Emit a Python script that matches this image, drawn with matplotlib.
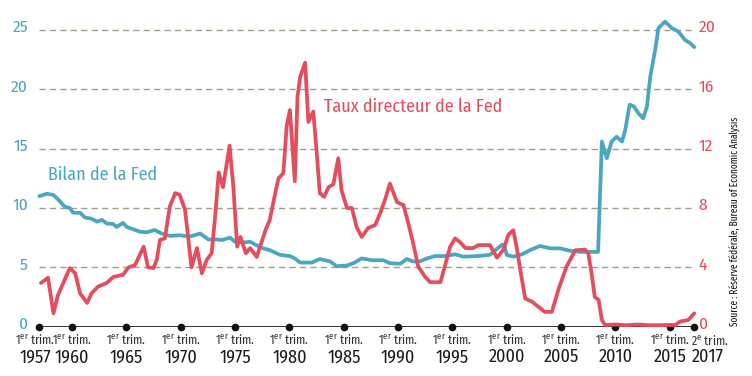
#!/usr/bin/env python3

import matplotlib
matplotlib.use("Agg")
import matplotlib.pyplot as plt
import matplotlib.transforms as mtransforms

# data

# Bilan de la Fed (% du PIB), left axis
bilan_years = [1957.0, 1957.7, 1958.3, 1958.75, 1959.35, 1959.8, 1960.1, 1960.75, 1961.2, 1961.8,
               1962.3, 1962.75, 1963.2, 1963.8, 1964.1, 1964.7, 1965.05, 1965.65, 1966.25, 1966.9,
               1967.6, 1968.25, 1969.0, 1969.9, 1970.85, 1971.8, 1972.55, 1973.3, 1973.8, 1974.55,
               1975.0, 1975.8, 1976.4, 1977.0, 1977.6, 1978.2, 1979.15, 1980.05, 1980.5, 1981.0,
               1982.05, 1982.8, 1983.75, 1984.35, 1985.3, 1985.9, 1986.65, 1987.6, 1988.65, 1989.25,
               1990.2, 1990.8, 1991.4, 1992.0, 1992.65, 1993.4, 1994.3, 1995.25, 1996.0, 1997.25,
               1998.45, 1999.55, 1999.75, 2000.0, 2000.6, 2001.4, 2002.15, 2003.05, 2004.0, 2004.9,
               2005.8, 2006.75, 2008.1, 2008.4, 2008.75, 2009.2, 2009.65, 2010.1, 2010.6, 2010.9,
               2011.3, 2011.7, 2012.1, 2012.55, 2012.9, 2013.2, 2013.65, 2013.95, 2014.55, 2015.2,
               2015.8, 2016.4, 2016.85, 2017.25]
bilan_values = [11.0, 11.2, 11.1, 10.7, 10.1, 10.0, 9.6, 9.6, 9.2, 9.1,
                8.85, 9.0, 8.7, 8.65, 8.4, 8.75, 8.4, 8.2, 8.0, 7.95,
                8.15, 7.85, 7.65, 7.7, 7.6, 7.85, 7.35, 7.35, 7.3, 7.5,
                7.15, 7.1, 7.15, 6.85, 6.6, 6.45, 6.05, 5.95, 5.75, 5.4,
                5.4, 5.7, 5.5, 5.1, 5.15, 5.35, 5.75, 5.6, 5.6, 5.35,
                5.3, 5.7, 5.5, 5.5, 5.75, 5.95, 5.95, 6.1, 5.9, 5.95,
                6.05, 6.9, 6.9, 6.05, 5.9, 6.1, 6.45, 6.8, 6.6, 6.6,
                6.4, 6.3, 6.3, 6.3, 15.6, 14.2, 15.6, 16.0, 15.6, 16.55,
                18.7, 18.55, 18.0, 17.55, 18.55, 21.05, 23.3, 25.15, 25.7, 25.15,
                24.85, 24.15, 23.9, 23.55]

# Taux directeur de la Fed (%), right axis
taux_years = [1957.15, 1957.8, 1958.3, 1958.7, 1959.8, 1960.3, 1960.75, 1961.4, 1961.8, 1962.4,
              1963.2, 1963.8, 1964.7, 1965.2, 1965.8, 1966.6, 1967.0, 1967.5, 1967.8, 1968.1,
              1968.55, 1969.0, 1969.5, 1969.9, 1970.4, 1971.0, 1971.5, 1971.95, 1972.4, 1972.85,
              1973.2, 1973.5, 1973.9, 1974.5, 1974.85, 1975.2, 1975.5, 1976.0, 1976.4, 1977.0,
              1977.8, 1978.2, 1978.7, 1979.0, 1979.45, 1979.75, 1980.05, 1980.5, 1980.75, 1981.0,
              1981.45, 1981.75, 1982.2, 1982.5, 1982.8, 1983.2, 1983.6, 1984.05, 1984.5, 1984.8,
              1985.3, 1985.75, 1986.2, 1986.65, 1987.25, 1987.9, 1988.35, 1988.8, 1989.25, 1989.9,
              1990.5, 1990.95, 1991.4, 1991.85, 1992.5, 1992.95, 1993.9, 1994.2, 1994.8, 1995.25,
              1995.7, 1996.2, 1996.9, 1997.4, 1998.45, 1999.1, 1999.7, 2000.15, 2000.6, 2000.9,
              2001.4, 2001.7, 2002.3, 2002.9, 2003.5, 2004.15, 2004.75, 2005.5, 2006.3, 2007.2,
              2007.5, 2007.8, 2008.1, 2008.45, 2008.75, 2009.05, 2010.0, 2011.0, 2012.0, 2013.0,
              2014.0, 2015.0, 2015.5, 2015.95, 2016.7, 2017.25]
taux_values = [2.95, 3.3, 0.9, 2.1, 3.95, 3.6, 2.25, 1.6, 2.25, 2.7,
               2.95, 3.35, 3.5, 4.0, 4.15, 5.4, 4.0, 3.95, 4.5, 5.85,
               5.95, 8.1, 9.0, 8.9, 7.9, 4.0, 5.3, 3.6, 4.5, 4.95,
               7.65, 10.4, 9.4, 12.2, 9.4, 5.4, 6.05, 4.95, 5.3, 4.7,
               6.5, 7.2, 9.0, 10.0, 10.35, 13.5, 14.6, 9.8, 15.5, 16.85,
               17.8, 13.8, 14.5, 11.9, 9.0, 8.75, 9.4, 9.6, 11.35, 9.2,
               8.0, 8.0, 6.7, 6.05, 6.65, 6.85, 7.65, 8.55, 9.65, 8.4,
               8.2, 6.95, 5.6, 4.05, 3.35, 3.0, 3.0, 3.8, 5.4, 5.95,
               5.7, 5.3, 5.3, 5.5, 5.5, 4.65, 5.2, 6.2, 6.5, 5.4,
               3.15, 1.9, 1.7, 1.35, 1.0, 1.0, 2.5, 4.05, 5.15, 5.2,
               4.95, 3.6, 2.0, 1.8, 0.45, 0.12, 0.15, 0.1, 0.15, 0.1,
               0.1, 0.12, 0.12, 0.35, 0.45, 0.9]

tick_years = [1957, 1960, 1965, 1970, 1975, 1980, 1985, 1990, 1995, 2000, 2005, 2010, 2015, 2017.25]
tick_years_labels = ["1957", "1960", "1965", "1970", "1975", "1980", "1985", "1990",
                     "1995", "2000", "2005", "2010", "2015", "2017"]
tick_trim_labels = [r"1$^{\mathrm{er}}$ trim."] * 13 + [r"2$^{\mathrm{e}}$ trim."]

left_ticks = [0, 5, 10, 15, 20, 25]
right_ticks = [0, 4, 8, 12, 16, 20]

BLUE = "#4ba6c1"
RED = "#e34d5c"
GRID = "#a39c8b"
FONT = ["Fira Sans Condensed", "DejaVu Sans"]
NARROW = ["Fira Sans Extra Condensed", "DejaVu Sans"]

plt.rcParams["font.family"] = FONT
plt.rcParams["mathtext.fontset"] = "custom"
plt.rcParams["mathtext.rm"] = "Fira Sans Extra Condensed"
plt.rcParams["mathtext.it"] = "Fira Sans Extra Condensed"


def main():
    fig = plt.figure(figsize=(7.52, 3.76), dpi=100)
    # axes placed in pixels: x 1956.85..2017.4 -> 37.7..695.9 px, y 0..27 -> 326.7..6.2 px
    ax = fig.add_axes([37.7 / 752, 49.3 / 376, 658.2 / 752, 320.5 / 376])
    ax.set_xlim(1956.85, 2017.4)
    ax.set_ylim(0, 27)

    for v in left_ticks[1:]:
        ax.axhline(v, xmin=0.002, xmax=0.997, color=GRID, lw=1, ls=(0, (4.5, 3)), zorder=1)

    ax.plot(bilan_years, bilan_values, color=BLUE, lw=2.7, solid_capstyle="round",
            solid_joinstyle="round", zorder=3, clip_on=False)

    ax2 = ax.twinx()
    ax2.set_ylim(0, 27 * 0.8)
    ax2.plot(taux_years, taux_values, color=RED, lw=2.7, solid_capstyle="round",
             solid_joinstyle="round", zorder=3, clip_on=False)

    for a in (ax, ax2):
        for s in ["top", "right", "left", "bottom"]:
            a.spines[s].set_visible(False)
        a.set_xticks([])

    # baseline with dots
    ax.axhline(0, color="#111111", lw=1.2, zorder=4)
    ax.plot(tick_years, [0] * len(tick_years), "o", color="#111111", ms=4.5, zorder=5, clip_on=False)

    # y tick labels, nudged up a bit
    up = mtransforms.ScaledTranslation(0, 4 / 100, fig.dpi_scale_trans)
    ax.set_yticks(left_ticks)
    ax.set_yticklabels([str(t) for t in left_ticks], color=BLUE, fontsize=12.5)
    ax.tick_params(axis="y", length=0, pad=7)
    for lab in ax.get_yticklabels():
        lab.set_transform(lab.get_transform() + up)
    ax2.set_yticks(right_ticks)
    ax2.set_yticklabels([str(t) for t in right_ticks], color=RED, fontsize=12.5)
    ax2.tick_params(axis="y", length=0, pad=2)
    for lab in ax2.get_yticklabels():
        lab.set_transform(lab.get_transform() + up)

    # x labels: "1er trim." over the year; first one nudged left, last one set to the right of its tick
    trans = mtransforms.blended_transform_factory(ax.transData, ax.transAxes)
    n = len(tick_years)
    for i, (x, t, y) in enumerate(zip(tick_years, tick_trim_labels, tick_years_labels)):
        ha = "center"
        dx = 0
        if i == 0:
            dx = -4
        elif i == n - 1:
            ha = "left"
            dx = -3
        off = trans + mtransforms.ScaledTranslation(dx / 100, 0, fig.dpi_scale_trans)
        ax.text(x, -0.042, t, transform=off, ha=ha, va="center", fontsize=9.5,
                color="#333333", family=NARROW)
        ax.text(x, -0.095, y, transform=off, ha=ha, va="center", fontsize=13,
                color="#1a1a1a")

    # series labels
    ax.text(1957.8, 12.8, "Bilan de la Fed", color=BLUE, fontsize=13, ha="left", va="center")
    ax2.text(1983.2, 14.8, "Taux directeur de la Fed", color=RED, fontsize=13, ha="left", va="center")

    fig.text(735 / 752, 49.5 / 376, "Source : Réserve fédérale, Bureau of Economic Analysis",
             rotation=90, fontsize=7.2, ha="center", va="bottom", color="#111111", family=NARROW)

    fig.savefig("out.png", dpi=100)


if __name__ == "__main__":
    main()
